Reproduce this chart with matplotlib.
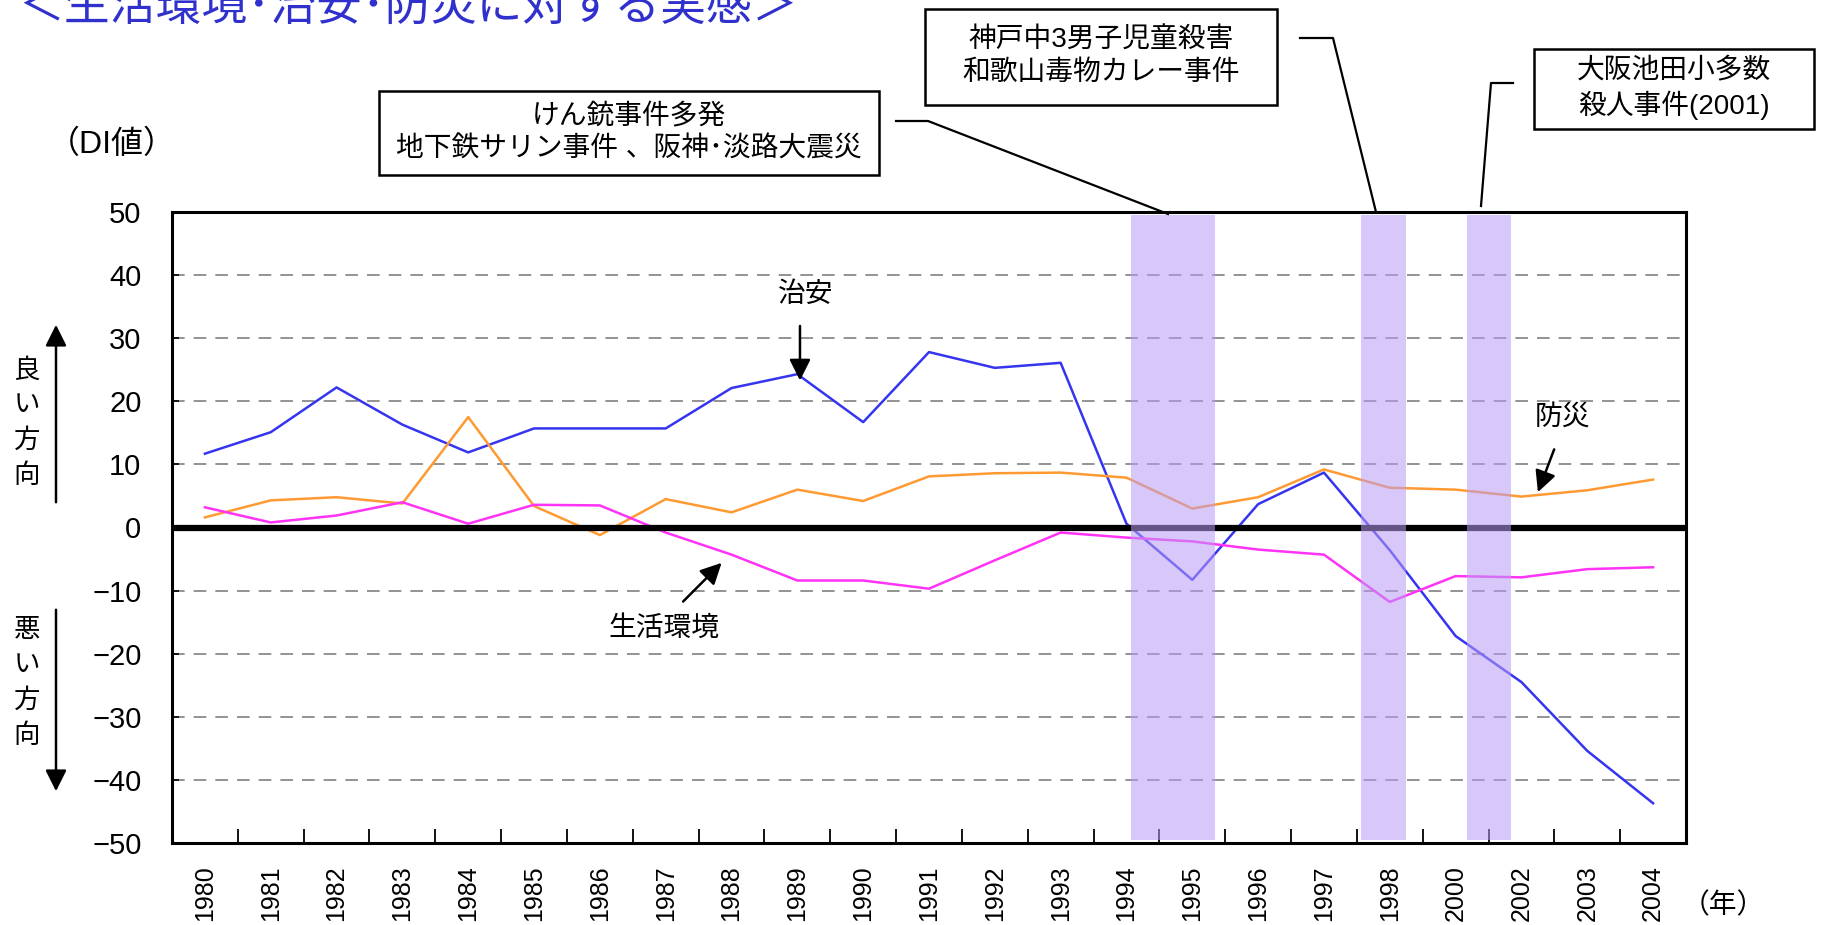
import matplotlib.pyplot as plt
from matplotlib.lines import Line2D
from matplotlib.patches import Rectangle, FancyArrowPatch
import numpy as np

plt.rcParams['font.family'] = ['Liberation Sans', 'Noto Sans CJK JP', 'DejaVu Sans']

years = ['1980', '1981', '1982', '1983', '1984', '1985', '1986', '1987', '1988',
         '1989', '1990', '1991', '1992', '1993', '1994', '1995', '1996', '1997',
         '1998', '2000', '2002', '2003', '2004']
chian = [11.7, 15.1, 22.2, 16.3, 11.9, 15.7, 15.7, 15.7, 22.1, 24.3, 16.7, 27.8,
         25.3, 26.1, 0.6, -8.3, 3.7, 8.7, -3.6, -17.2, -24.5, -35.4, -43.7]
bousai = [1.6, 4.3, 4.8, 3.8, 17.5, 3.4, -1.2, 4.5, 2.4, 6.0, 4.2, 8.1,
          8.6, 8.7, 7.9, 3.0, 4.8, 9.2, 6.3, 6.0, 4.9, 5.9, 7.6]
seikatsu = [3.2, 0.8, 1.9, 4.0, 0.6, 3.6, 3.5, -0.8, -4.3, -8.4, -8.4, -9.7,
            -5.2, -0.8, -1.6, -2.2, -3.5, -4.3, -11.8, -7.7, -7.9, -6.6, -6.3]

# shaded event periods (category positions)
events = [(14.07, 15.34), (17.57, 18.24), (19.18, 19.84)]
grid_vals = [-40, -30, -20, -10, 10, 20, 30, 40]

W, H = 1825, 925
fig = plt.figure(figsize=(W / 100, H / 100), dpi=100)
ax = fig.add_axes([172 / W, 1 - 843 / H, (1686 - 172) / W, (843 - 212) / H])

x = np.arange(len(years))
ax.plot(x, chian, color='#3535F0', lw=1.8, zorder=3)
ax.plot(x, bousai, color='#FF9A33', lw=1.8, zorder=3)
ax.plot(x, seikatsu, color='#FF33F5', lw=1.8, zorder=3)

for g in grid_vals:
    ax.axhline(g, color='#8a8a8a', lw=1.3, dashes=(7, 5), zorder=1)
ax.axhline(0, color='black', lw=4.5, zorder=4)

for a, b in events:
    ax.axvspan(a, b, ymin=0.004, ymax=0.996, color='#B89CF5', alpha=0.55,
               lw=0, zorder=5)

ax.set_xlim(-0.5, len(years) - 0.5)
ax.set_ylim(-50, 50)
ax.set_yticks(np.arange(-50, 51, 10))
ax.set_yticklabels([str(v).replace('-', '\u2212') for v in range(-50, 51, 10)],
                   fontsize=21)
ax.set_xticks(x)
ax.set_xticklabels(years, rotation=90, fontsize=18)
ax.set_xticks(np.arange(0.5, len(years) - 1, 1), minor=True)
ax.tick_params(axis='x', which='major', length=0, pad=16)
ax.tick_params(axis='x', which='minor', direction='in', length=10, width=1.3)
ax.tick_params(axis='y', direction='in', length=5, width=1.2, pad=22)
for s in ax.spines.values():
    s.set_linewidth(2.2)

# series labels
arrow = dict(arrowstyle='-|>', color='black', lw=1.8, mutation_scale=32,
             shrinkA=3, shrinkB=0)
ax.annotate('', xy=(9.04, 23.3), xytext=(9.04, 32.6), arrowprops=arrow)
ax.text(9.12, 36.8, '治安', ha='center', va='center', fontsize=20)
ax.annotate('', xy=(20.25, 5.6), xytext=(20.52, 13.0), arrowprops=arrow)
ax.text(20.63, 17.4, '防災', ha='center', va='center', fontsize=20)
ax.annotate('', xy=(7.85, -5.6), xytext=(7.22, -12.2), arrowprops=arrow)
ax.text(6.97, -16.0, '生活環境', ha='center', va='center', fontsize=20)


def fx(px):
    return px / W


def fy(py):
    return 1 - py / H


# title (cut at top edge as in the source)
fig.text(fx(18), fy(21), '＜生活環境･治安･防災に対する実感＞', color='#3030CC',
         fontsize=33, ha='left', va='baseline')
fig.text(fx(112), fy(145), '（DI値）', fontsize=23, ha='center', va='center')
fig.text(fx(1723), fy(906), '（年）', fontsize=20, ha='center', va='center')

# good / bad direction labels
fig.text(fx(27), fy(423), '良\nい\n方\n向', fontsize=19, ha='center', va='center',
         linespacing=1.55)
fig.text(fx(27), fy(683), '悪\nい\n方\n向', fontsize=19, ha='center', va='center',
         linespacing=1.55)
fig.add_artist(FancyArrowPatch(
    (fx(56), fy(505)), (fx(56), fy(322)), transform=fig.transFigure,
    arrowstyle='-|>', mutation_scale=32, color='black', lw=1.8))
fig.add_artist(FancyArrowPatch(
    (fx(56), fy(607)), (fx(56), fy(794)), transform=fig.transFigure,
    arrowstyle='-|>', mutation_scale=32, color='black', lw=1.8))

# event boxes
boxes = [
    ((379, 91, 879, 175), 'けん銃事件多発\n地下鉄サリン事件 、阪神･淡路大震災'),
    ((925, 9, 1277, 105), '神戸中3男子児童殺害\n和歌山毒物カレー事件'),
    ((1534, 49, 1814, 129), '大阪池田小多数\n殺人事件(2001)'),
]
for (x0, y0, x1, y1), txt in boxes:
    fig.add_artist(Rectangle((fx(x0), fy(y1)), fx(x1 - x0), (y1 - y0) / H,
                             transform=fig.transFigure, facecolor='white',
                             edgecolor='black', lw=1.8))
    fig.text(fx((x0 + x1) / 2), fy((y0 + y1) / 2), txt, fontsize=20,
             ha='center', va='center', linespacing=1.3)

leaders = [
    [(896, 121), (928, 121), (1168, 214)],
    [(1300, 38), (1333, 38), (1376, 212)],
    [(1513, 83), (1491, 83), (1481, 206)],
]
for pts in leaders:
    xs = [fx(p[0]) for p in pts]
    ys = [fy(p[1]) for p in pts]
    fig.add_artist(Line2D(xs, ys, transform=fig.transFigure, color='black', lw=1.6))

plt.savefig('out.png', dpi=100)
